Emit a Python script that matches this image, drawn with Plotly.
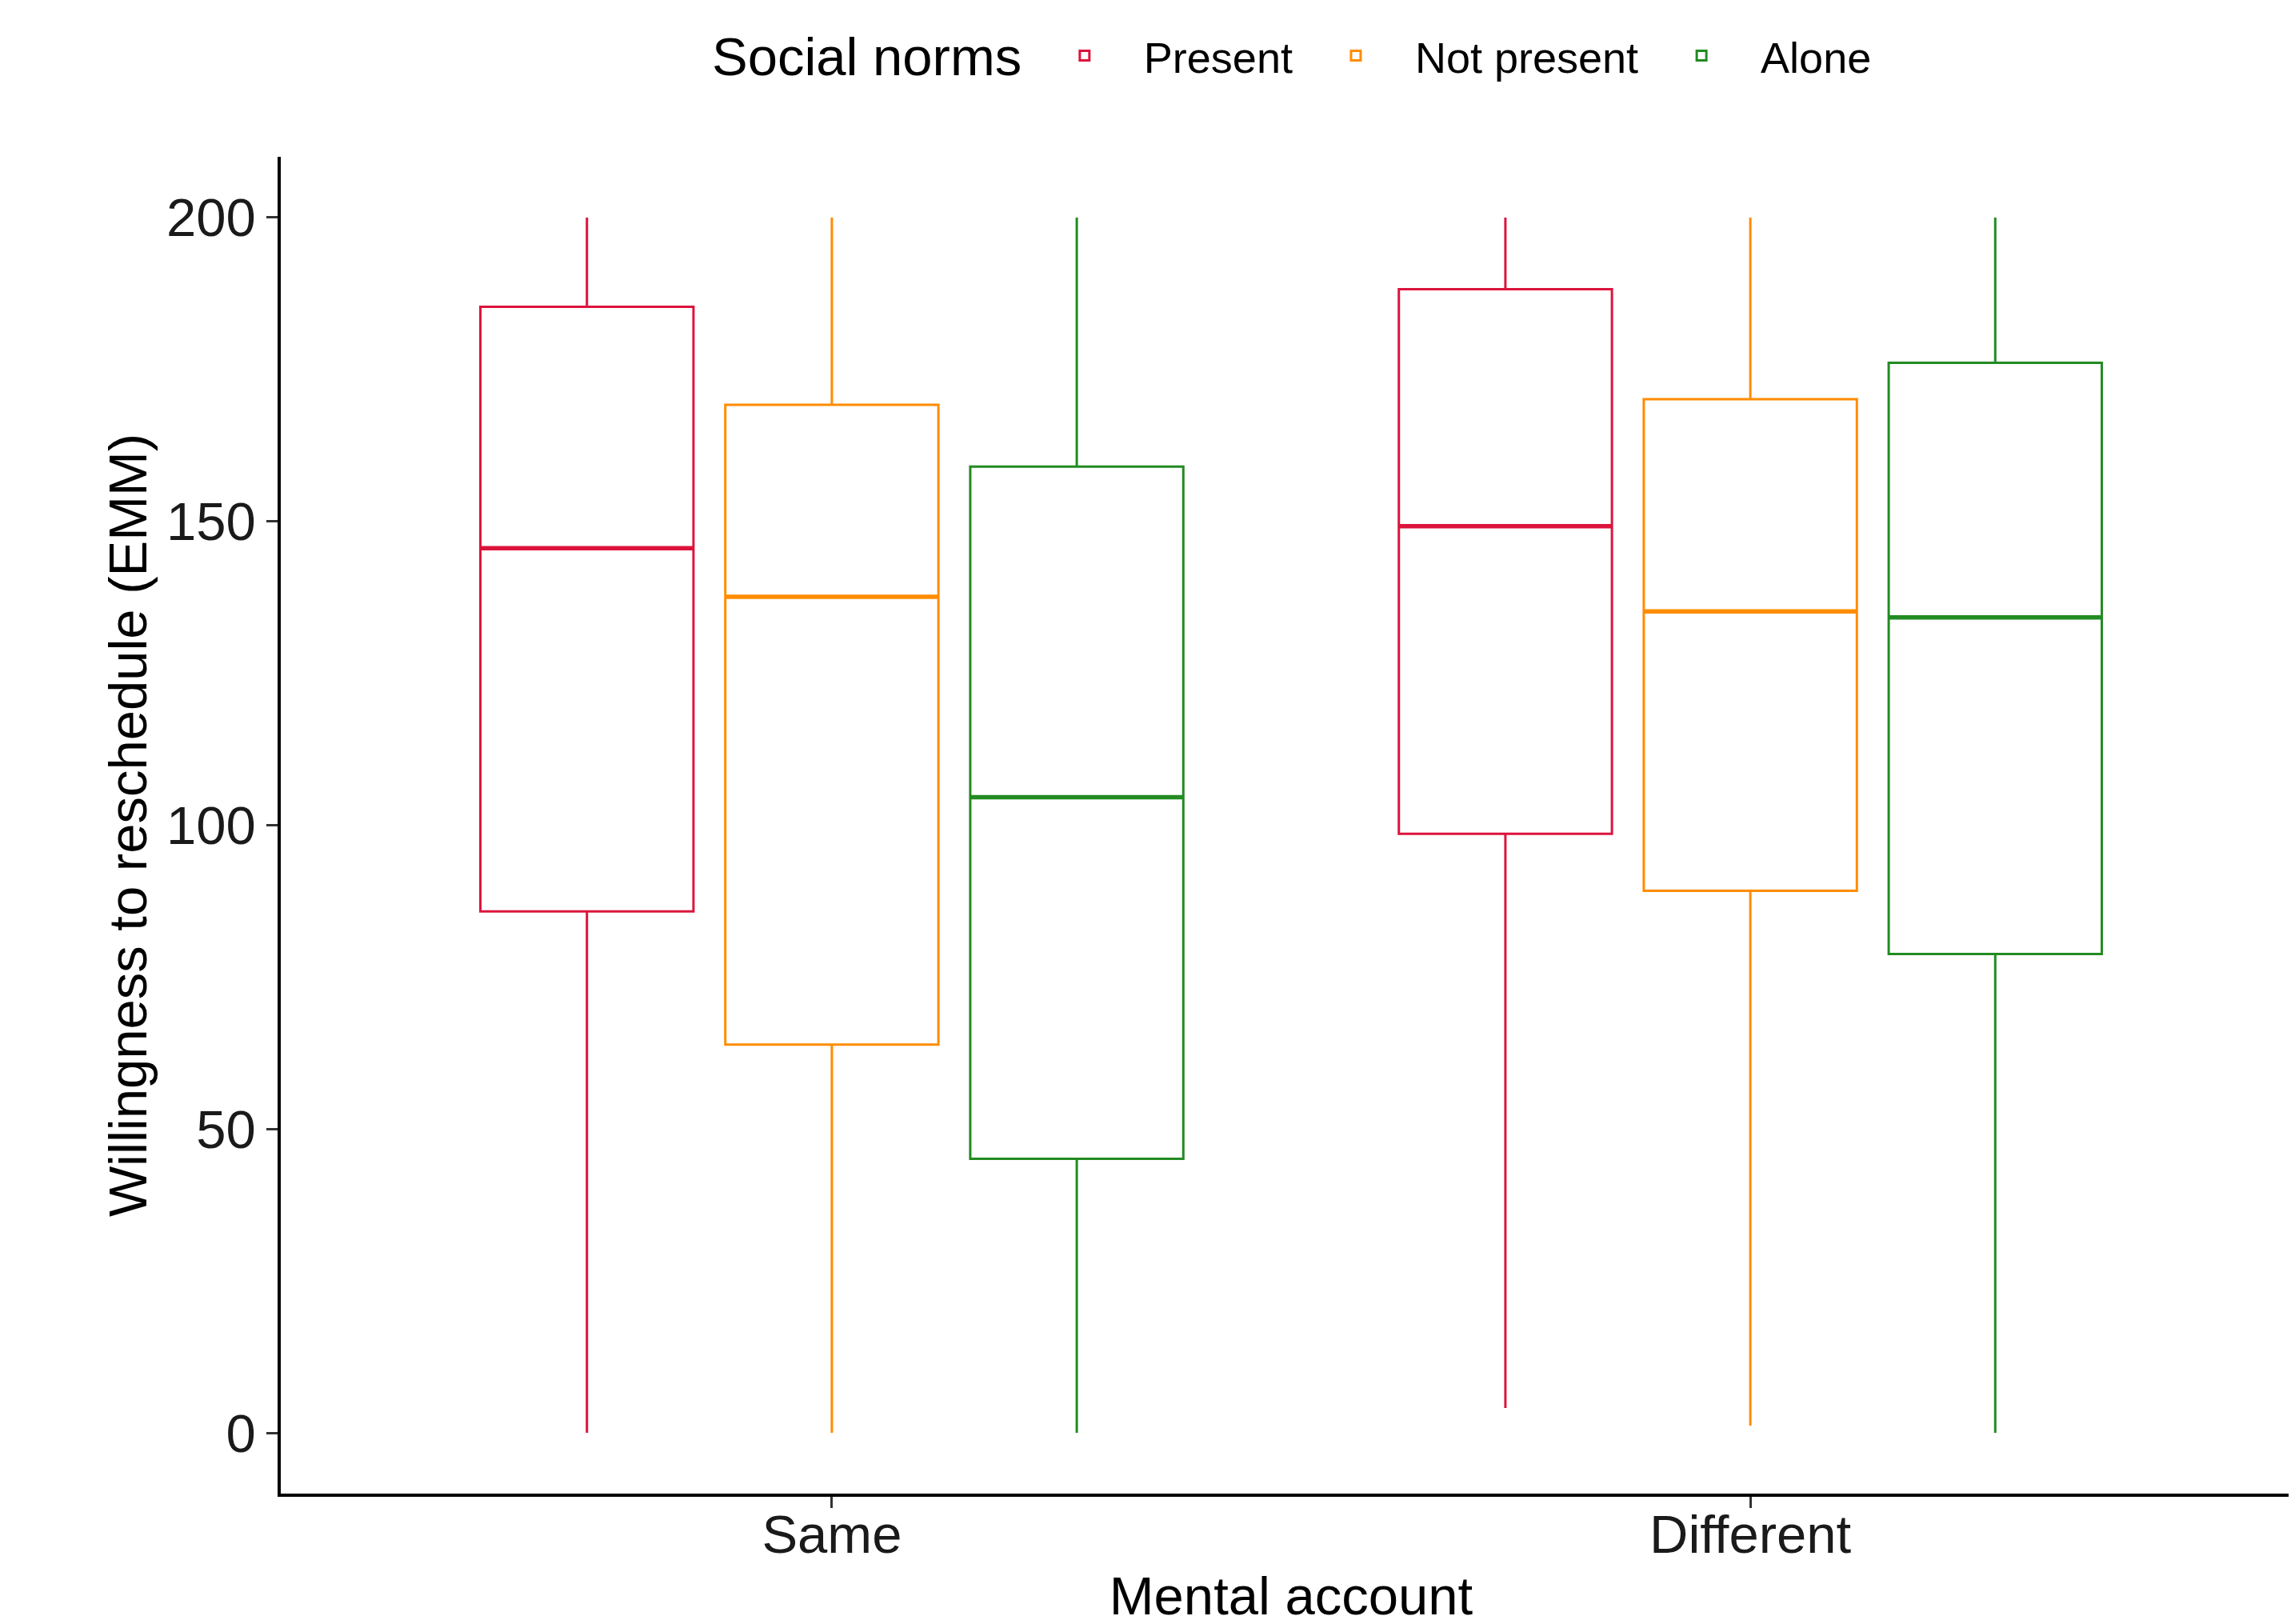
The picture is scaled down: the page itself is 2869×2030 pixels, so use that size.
import plotly.graph_objects as go

categories = ["Same", "Different"]
groups = ["Present", "Not present", "Alone"]
colors = ["#DC143C", "#FF8C00", "#228B22"]

# five-number summaries per group, one value per category (Same, Different)
lower = {"Present": [0.0, 4.1], "Not present": [0.0, 1.2], "Alone": [0.0, 0.0]}
q1 = {"Present": [85.8, 98.6], "Not present": [63.9, 89.2], "Alone": [45.1, 78.8]}
median = {"Present": [145.6, 149.2], "Not present": [137.6, 135.2], "Alone": [104.6, 134.2]}
q3 = {"Present": [185.3, 188.2], "Not present": [169.2, 170.1], "Alone": [159.0, 176.1]}
upper = {"Present": [200.0, 200.0], "Not present": [200.0, 200.0], "Alone": [200.0, 200.0]}

y_ticks = [0, 50, 100, 150, 200]

FONT = "Liberation Sans, Arial, sans-serif"
BOXGAP = 0.2
BOXGROUPGAP = 0.13

fig = go.Figure()
for g, c in zip(groups, colors):
    fig.add_trace(go.Box(
        name=g,
        x=categories,
        q1=q1[g], median=median[g], q3=q3[g],
        lowerfence=lower[g], upperfence=upper[g],
        line=dict(color=c, width=3),
        fillcolor="rgba(255,255,255,0)",
        whiskerwidth=0,
        boxpoints=False,
        hoverinfo="skip",
    ))

# thicker median strokes (ggplot style), placed on the same dodged slots
n = len(groups)
slot = (1 - BOXGAP) / n
half = 0.5 * slot * (1 - BOXGROUPGAP)
shapes = []
for k, (g, c) in enumerate(zip(groups, colors)):
    for i, _cat in enumerate(categories):
        center = i - (1 - BOXGAP) / 2 + slot * (k + 0.5)
        shapes.append(dict(
            type="line", xref="x", yref="y",
            x0=center - half, x1=center + half,
            y0=median[g][i], y1=median[g][i],
            line=dict(color=c, width=5.5),
        ))

fig.update_layout(
    width=2869, height=2030,
    paper_bgcolor="white", plot_bgcolor="white",
    boxmode="group", boxgap=BOXGAP, boxgroupgap=BOXGROUPGAP,
    margin=dict(l=343, r=0, t=188, b=171, autoexpand=False),
    font=dict(family=FONT, size=67, color="black"),
    legend=dict(
        orientation="h", xref="container", yref="container",
        x=0.444, xanchor="left", y=0.9695, yanchor="middle",
        font=dict(size=54, color="black"),
        itemwidth=138,
    ),
    showlegend=True,
    shapes=shapes,
    annotations=[dict(
        text="Social norms", xref="paper", yref="paper",
        x=(880 - 343) / (2869 - 343), xanchor="left",
        y=1.0754, yanchor="middle", showarrow=False,
        font=dict(size=67, color="black"),
    )],
)
fig.update_xaxes(
    type="category", categoryorder="array", categoryarray=categories,
    range=[-0.6, 1.6],
    showline=True, linecolor="black", linewidth=3.5,
    ticks="outside", ticklen=14, tickwidth=3, tickcolor="#333333",
    tickfont=dict(size=67, color="#1a1a1a"),
    ticklabelstandoff=-24,
    showgrid=False, zeroline=False,
    title=dict(text="Mental account", standoff=18, font=dict(size=67, color="black")),
)
fig.update_yaxes(
    range=[-10, 210], tickvals=y_ticks,
    showline=True, linecolor="black", linewidth=3.5,
    ticks="outside", ticklen=14, tickwidth=3, tickcolor="#333333",
    tickfont=dict(size=67, color="#1a1a1a"),
    showgrid=False, zeroline=False,
    title=dict(text="Willingness to reschedule (EMM)", standoff=4, font=dict(size=67, color="black")),
)

fig.write_html("out.html")
